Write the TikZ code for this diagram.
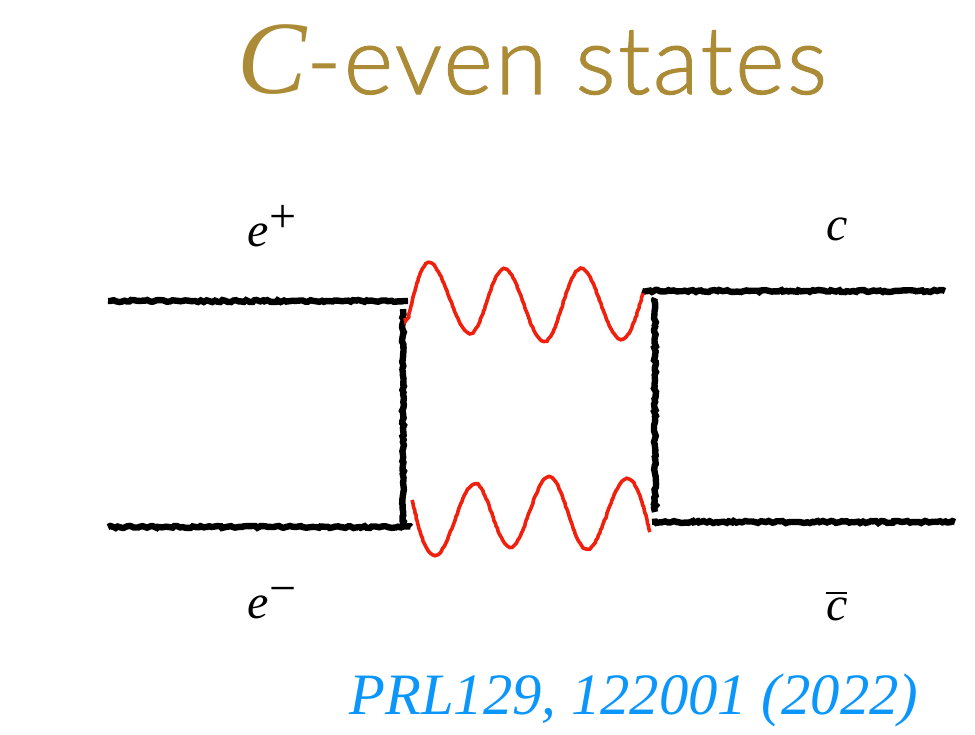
\documentclass[tikz,border=0pt]{standalone}
\usepackage{fontspec}
\setmainfont{Liberation Serif}
\newfontfamily\titlefont[FakeBold=1.2,LetterSpace=2.5]{Lato Light}
\usepackage{xcolor}
\usetikzlibrary{positioning,decorations.pathmorphing}
\definecolor{titlegold}{RGB}{171,139,54}
\definecolor{refblue}{RGB}{10,150,250}
\definecolor{photonred}{RGB}{240,32,12}
\newcommand{\chargesign}[1]{\raisebox{0.3em}{\fontsize{36}{40}\selectfont\upshape #1}}
\newcommand{\barmark}{\makebox[0pt][l]{\raisebox{0.54em}{\rule{0.42em}{0.055em}}}}

\begin{document}
\begin{tikzpicture}[
		x=0.75pt,
		y=-0.75pt,
		fermion/.style={
			draw=black,
			line width=4.8pt,
			decorate,
			decoration={random steps, segment length=2pt, amplitude=0.8pt}
		},
		photon/.style={
			draw=photonred,
			line width=2.7pt,
			decorate,
			decoration={random steps, segment length=2pt, amplitude=0.3pt}
		},
		wave/.style={out=0, in=180, looseness=0.45},
		particle/.style={
			inner sep=0pt,
			font=\fontsize{36}{40}\selectfont\itshape
		}
		]
		
		\useasboundingbox (0,0) rectangle (975,735);
		
		% Title and reference
		\node[inner sep=0pt, text=titlegold, font=\fontsize{71}{80}\selectfont] (title) at (532,60)
			{{\itshape\fontsize{78}{80}\selectfont C}\titlefont-even states};
		\node[inner sep=0pt, text=refblue, font=\fontsize{44}{48}\selectfont\itshape] (reference) at (634,700)
			{PRL129, 122001 (2022)};
		
		% Outer particles
		\node[particle] (eplus) at (272,226) {e\chargesign{+}};
		\node[particle, below=283pt of eplus.center, anchor=center] (eminus) {e\chargesign{−}};
		\node[particle] (cquark) at (837,229) {c};
		\node[particle, below=283pt of cquark.center, anchor=center] (cbar) {\barmark c};
		
		% Line ends
		\coordinate (topleft) at (108,301);
		\coordinate (topvertex) at (408,301);
		\coordinate (sidetop) at (403,309);
		\coordinate (sidebottom) at (403,527);
		\coordinate (bottomleft) at (108,527);
		\coordinate (bottomvertex) at (411,527);
		\coordinate (topright) at (945,291);
		\coordinate (rtopvertex) at (642,291);
		\coordinate (rsidetop) at (655,298);
		\coordinate (rsidebottom) at (655,512);
		\coordinate (rbottomvertex) at (652,522);
		\coordinate (bottomright) at (955,522);
		
		% Fermion lines
		\draw[fermion] (topleft) -- (topvertex);
		\draw[fermion] (sidetop) -- (sidebottom);
		\draw[fermion] (bottomleft) -- (bottomvertex);
		\draw[fermion] (rtopvertex) -- (topright);
		\draw[fermion] (rsidetop) -- (rsidebottom);
		\draw[fermion] (rbottomvertex) -- (bottomright);
		
		% Upper photon
		\coordinate (upstart) at (405,318);
		\coordinate (uppeaka) at (429,263);
		\coordinate (uptrougha) at (470,333);
		\coordinate (uppeakb) at (504,269);
		\coordinate (uptroughb) at (544,341);
		\coordinate (uppeakc) at (581,269);
		\coordinate (uptroughc) at (621,339);
		\coordinate (upend) at (643,293);
		\draw[photon] (upstart) to[out=-72, in=180, looseness=0.55] (uppeaka)
			to[wave] (uptrougha) to[wave] (uppeakb)
			to[wave] (uptroughb) to[wave] (uppeakc)
			to[wave] (uptroughc) to[out=0, in=-108, looseness=0.55] (upend);
		
		% Lower photon
		\coordinate (lowstart) at (412,500);
		\coordinate (lowtrougha) at (435,555);
		\coordinate (lowpeaka) at (475,484);
		\coordinate (lowtroughb) at (510,547);
		\coordinate (lowpeakb) at (549,477);
		\coordinate (lowtroughc) at (587,549);
		\coordinate (lowpeakc) at (627,479);
		\coordinate (lowend) at (650,532);
		\draw[photon] (lowstart) to[out=-72, in=180, looseness=0.55] (lowtrougha)
			to[wave] (lowpeaka) to[wave] (lowtroughb)
			to[wave] (lowpeakb) to[wave] (lowtroughc)
			to[wave] (lowpeakc) to[out=0, in=108, looseness=0.55] (lowend);
		
	\end{tikzpicture}
\end{document}
